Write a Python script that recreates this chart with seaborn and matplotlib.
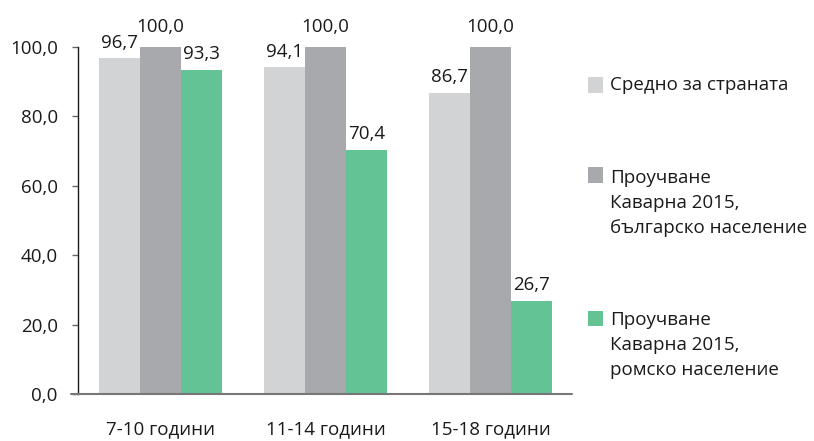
import matplotlib
matplotlib.use("Agg")
import matplotlib.pyplot as plt
import seaborn as sns
import pandas as pd
from matplotlib.patches import Rectangle

categories = ["7-10 години", "11-14 години", "15-18 години"]
series_names = ["Средно за страната",
                "Проучване\nКаварна 2015,\nбългарско население",
                "Проучване\nКаварна 2015,\nромско население"]
avg_country = [96.7, 94.1, 86.7]
kavarna_bg = [100.0, 100.0, 100.0]
kavarna_roma = [93.3, 70.4, 26.7]
y_ticks = [0, 20, 40, 60, 80, 100]
colors = ["#d1d3d4", "#a7a9ac", "#63c395"]

rows = []
for name, vals in zip(series_names, [avg_country, kavarna_bg, kavarna_roma]):
    for c, v in zip(categories, vals):
        rows.append({"cat": c, "series": name, "value": v})
df = pd.DataFrame(rows)

sns.set_style("white")
plt.rcParams["font.family"] = ["Open Sans", "DejaVu Sans"]
FS = 13.5

W, H = 814, 441
fig = plt.figure(figsize=(W / 100, H / 100), dpi=100)
ax = fig.add_axes([78 / W, 1 - 394 / H, (572 - 78) / W, (394 - 47) / H])

sns.barplot(data=df, x="cat", y="value", hue="series", order=categories,
            hue_order=series_names, palette=colors, saturation=1,
            width=0.75, gap=0, edgecolor="none", linewidth=0, ax=ax,
            legend=False, errorbar=None)

ax.set_xlim(-0.5, 2.494)
ax.set_ylim(0, 100)
ax.set_yticks(y_ticks)
ax.set_yticklabels([f"{t:.1f}".replace(".", ",") for t in y_ticks], fontsize=FS, color="#1a1a1a")
ax.tick_params(axis="y", left=True, length=4.5, width=1, color="#666666", pad=10)
ax.tick_params(axis="x", bottom=False, length=0, pad=19, labelsize=FS, labelcolor="#1a1a1a")
ax.set_xlabel("")
ax.set_ylabel("")
for s in ["top", "right", "bottom"]:
    ax.spines[s].set_visible(False)
ax.spines["left"].set_color("#1a1a1a")
ax.spines["left"].set_linewidth(1)
ax.axhline(0, xmin=-7 / 494, xmax=1, color="#777777", lw=1.5, clip_on=False, zorder=5)

for i, cont in enumerate(ax.containers):
    labels = [f"{v:.1f}".replace(".", ",") for v in cont.datavalues]
    ax.bar_label(cont, labels=labels, padding=8 if i == 1 else 5,
                 fontsize=FS, color="#1a1a1a")

# legend (manual, from hue names and palette)
sq = 15
entry_first_line_y = [85, 178, 320]
square_y = [85, 175, 318]
line_step = 25
for name, col, y0, sy in zip(series_names, colors, entry_first_line_y, square_y):
    fig.patches.append(Rectangle((588 / W, 1 - (sy + sq / 2) / H), sq / W, sq / H,
                                 transform=fig.transFigure, facecolor=col,
                                 edgecolor="none"))
    for k, line in enumerate(name.split("\n")):
        fig.text(610 / W, 1 - (y0 + k * line_step) / H, line, fontsize=FS,
                 va="center", ha="left", color="#1a1a1a")

fig.savefig("out.png", dpi=100)
